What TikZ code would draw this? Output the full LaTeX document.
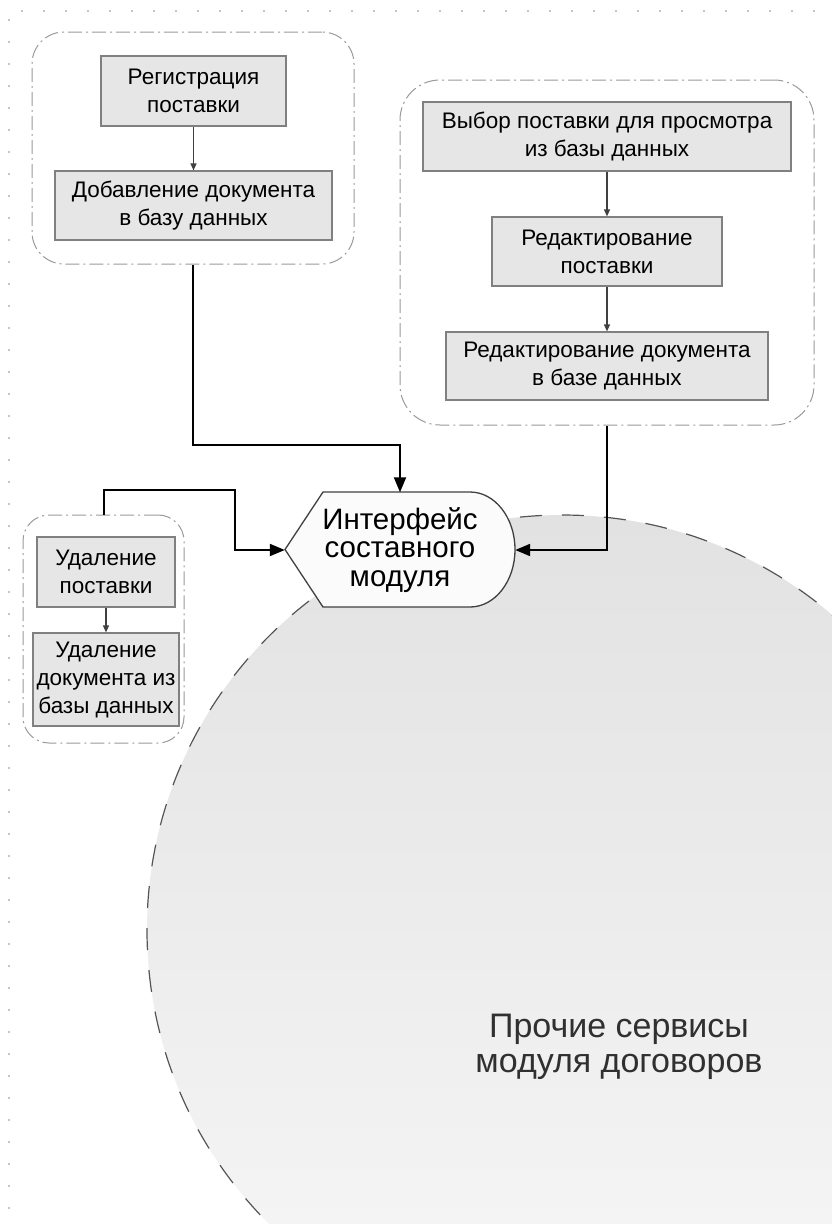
\documentclass[tikz,border=0pt]{standalone}
\usepackage{fontspec}
\setmainfont{Liberation Sans}
\usetikzlibrary{arrows.meta}
\definecolor{boxfill}{HTML}{E6E6E6}
\definecolor{boxline}{HTML}{808080}
\definecolor{grpline}{HTML}{9A9A9A}
\definecolor{dotc}{HTML}{8C8C8C}
\definecolor{svctext}{HTML}{303030}
\definecolor{circtop}{HTML}{E2E2E2}
\definecolor{circbot}{HTML}{F7F7F7}
\definecolor{circline}{HTML}{555555}
\definecolor{iffill}{HTML}{FBFBFB}
\begin{document}
\begin{tikzpicture}[x=1pt,y=-1pt,
 stepbox/.style={draw=boxline, fill=boxfill, line width=1.2pt, inner sep=0pt, align=center, font=\fontsize{22.5}{28}\selectfont},
 grp/.style={draw=grpline, line width=1pt, dash pattern=on 14pt off 4pt on 2pt off 4pt, inner sep=0pt},
 inarrow/.style={draw=black!75, line width=1.2pt, -{Triangle[length=7pt,width=6pt]}},
 conn/.style={draw=black, line width=2pt, -{Triangle[length=15pt,width=12pt]}},
 dotmark/.style={fill=dotc},
]
\useasboundingbox (0,0) rectangle (832,1224);
% background circle
\begin{scope}
\clip (0,0) rectangle (832,1224);
\shade[top color=circtop, bottom color=circbot] (562,930) circle[radius=415pt];
\draw[circline, line width=1.2pt, dash pattern=on 22pt off 20pt] (562,930) circle[radius=415pt];
\end{scope}
% dotted grid border
\foreach \i in {0,...,36} \fill[dotmark] (22+22*\i,11) circle[radius=0.9pt];
\foreach \j in {0,...,54} \fill[dotmark] (9,20+22*\j) circle[radius=0.9pt];
% groups
\node[grp, rounded corners=32pt, minimum width=322pt, minimum height=232pt] (g1) at (193,148) {};
\node[grp, rounded corners=40pt, minimum width=414pt, minimum height=345pt] (g2) at (607,252.5) {};
\node[grp, rounded corners=26pt, minimum width=161pt, minimum height=228pt] (g3) at (103.5,629) {};
% boxes
\node[stepbox, minimum width=185pt, minimum height=70pt] (b1) at (193.5,91) {Регистрация\\поставки};
\node[stepbox, minimum width=277pt, minimum height=69pt] (b2) at (193.5,205.5) {Добавление документа\\в базу данных};
\node[stepbox, minimum width=368pt, minimum height=69pt] (b3) at (607,136.5) {Выбор поставки для просмотра\\из базы данных};
\node[stepbox, minimum width=230pt, minimum height=69pt] (b4) at (607,251.5) {Редактирование\\поставки};
\node[stepbox, minimum width=322pt, minimum height=68pt] (b5) at (607,366) {Редактирование документа\\в базе данных};
\node[stepbox, minimum width=138pt, minimum height=70pt] (b6) at (106,572) {Удаление\\поставки};
\node[stepbox, minimum width=146pt, minimum height=93pt] (b7) at (106,679.5) {Удаление\\документа из\\базы данных};
% inner arrows
\draw[inarrow] (b1.south) -- (b2.north);
\draw[inarrow] (b3.south) -- (b4.north);
\draw[inarrow] (b4.south) -- (b5.north);
\draw[inarrow] (b6.south) -- (b7.north);
% interface shape
\draw[draw=black!75, line width=1.3pt, fill=iffill] (285,549.5) -- (323,492) -- (470,492)
  .. controls (494.85,492) and (515,517.7) .. (515,549.5)
  .. controls (515,581.3) and (494.85,607) .. (470,607) -- (323,607) -- cycle;
\node[inner sep=0pt, minimum width=230pt, minimum height=115pt, align=center, font=\fontsize{29.5}{28.5}\selectfont] (iface) at (400,550) {Интерфейс\\составного\\модуля};
% connectors
\coordinate (c1) at (193,445);
\coordinate (c3) at (235,490);
\draw[conn] (g1.south) -- (c1) -| (iface.north);
\draw[conn] (g2.south) |- (iface.east);
\draw[conn] (g3.north) |- (c3) |- (iface.west);
% service label
\node[font=\fontsize{34}{35}\selectfont, text=svctext, align=center] (svc) at (619,1047) {Прочие сервисы\\модуля договоров};
\end{tikzpicture}
\end{document}
